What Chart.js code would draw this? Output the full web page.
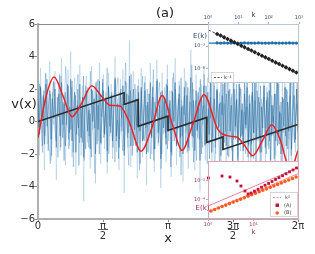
<!DOCTYPE html>
<html>
<head>
<meta charset="utf-8">
<script src="https://cdn.jsdelivr.net/npm/chart.js@4.4.0/dist/chart.umd.min.js"></script>
<style>
  html, body { margin: 0; padding: 0; background: #fff; }
  #wrap { position: relative; width: 315px; height: 254px; overflow: hidden; }
  #wrap canvas { position: absolute; }
</style>
</head>
<body>
<div id="wrap">
  <canvas id="mainChart" width="315" height="254" style="left:0;top:0"></canvas>
  <canvas id="topInset" width="130" height="90" style="left:180px;top:4px"></canvas>
  <canvas id="bottomInset" width="125" height="95" style="left:185px;top:150px"></canvas>
</div>
<script>
/**
 *
 * Chart (a): v(x) with two spectrum insets
 *
 */

const FONT = 'DejaVu Sans';
const TWO_PI = 2 * Math.PI;

// main axes
const xTickValues = [0, Math.PI / 2, Math.PI, 3 * Math.PI / 2, 2 * Math.PI];
const xTickLabels = ['0', ['π', '2'], 'π', ['3π', '2'], '2π'];
const fractionTicks = [Math.PI / 2, 3 * Math.PI / 2];

// noisy signal, four overlapping layers (light -> dark)
const noiseLight = [
  2.6,-2.1,3.3,-0.7,1.5,-3.0,2.9,-1.4,0.6,3.7,-2.4,1.8,-0.2,3.1,-3.6,1.0,2.4,-1.8,3.9,-1.0,
  1.6,-2.7,0.8,3.2,-1.5,4.3,-2.2,0.3,2.7,-3.3,1.3,-0.9,3.5,-2.1,2.2,-4.9,1.7,2.8,-1.3,0.9,
  -2.9,3.4,-0.5,2.1,-3.8,2.5,-1.2,3.6,-2.6,0.7,2.9,-1.7,1.8,-3.2,3.0,-0.9,2.3,-2.3,1.1,4.0,
  -1.9,1.4,-3.0,2.6,-0.3,3.2,-4.4,1.2,2.4,-1.6,5.0,-2.8,0.9,3.1,-1.1,2.0,-3.5,2.6,-1.3,3.3,
  -2.2,0.5,2.8,-3.9,1.7,-0.6,3.6,-2.0,2.2,-3.1,0.8,3.8,-1.5,1.4,-4.1,3.0,-0.8,2.1,-2.5,3.5,
  -1.2,1.9,-3.4,2.7,-0.4,3.9,-2.7,1.0,2.5,-1.9,1.3,-3.7,3.3,-0.7,2.4,-2.9,0.6,4.4,-1.6,2.0,
  -3.0,2.9,-1.0,1.6,-4.3,2.3,-0.2,3.4,-2.4,1.2,2.7,-1.4,3.8,-3.3,0.8,2.2,-2.0,3.1,-0.9,1.8,
  -3.6,2.5,-1.7,4.6,-2.6,0.4,2.9,-1.1,1.5,-4.5,3.2,-0.6,2.0,-2.2,3.7,-1.8,1.1,-3.1,2.6,-0.5,
  3.4,-2.5,1.7,-3.9,2.8,-1.3,4.2,-2.0,0.9,2.4,-3.4,1.4,-0.8,3.6,-2.8,2.1,-1.5,3.0,-4.2,1.6,
  -0.3,2.7,-2.1,3.9,-1.4,1.0,-3.6,2.4,-0.7,3.3,-2.6,1.9,-1.1,4.1,-3.0,0.6,2.5,-1.9,3.2,-1.2
];
const noiseMidA = [
  0.9,2.3,-0.6,-1.9,1.4,3.0,0.2,-1.2,-2.6,1.1,2.5,1.7,-0.4,-2.2,0.6,2.8,-1.0,0.3,3.4,1.2,
  -1.7,-0.5,2.1,-2.8,0.8,1.9,2.9,-1.3,-0.1,1.5,-2.4,2.2,0.4,-1.6,3.1,0.7,-0.9,-3.2,1.8,2.6,
  0.1,-1.4,2.4,-0.7,1.0,3.3,-2.0,-0.3,1.6,0.5,-2.5,2.0,2.7,-1.1,0.2,-1.8,1.3,3.6,-0.8,-2.7,
  1.9,0.6,-1.5,2.3,-0.2,1.1,-3.0,0.9,2.8,-1.2,-0.4,2.0,1.4,-2.3,0.7,3.2,-1.7,-0.6,1.7,2.4,
  -2.9,0.3,1.2,-1.0,2.6,-0.5,0.8,-2.1,3.0,1.5,-1.4,-0.2,2.2,-3.3,1.0,0.4,2.5,-1.9,-0.7,1.8,
  3.5,-1.0,0.0,-2.4,1.6,2.1,-0.9,-1.6,2.9,0.5,-2.6,1.3,0.2,2.4,-1.3,-3.1,1.9,0.8,-0.3,2.7,
  -1.8,1.1,-0.6,3.1,-2.2,0.4,1.7,-1.1,-0.1,2.3,-2.9,1.4,2.0,-0.8,0.6,-2.0,3.3,-1.5,0.9,1.6,
  -2.3,0.1,2.6,-1.2,1.2,-3.4,0.7,2.2,-0.4,1.5,-1.7,2.8,-0.9,0.3,-2.5,1.8,2.4,-1.4,0.5,-0.6,
  -1.9,2.1,0.8,-2.8,1.3,3.0,-0.7,-1.3,2.0,0.4
];
const noiseMidB = [
  1.4,-0.3,2.2,0.8,-1.5,1.9,-0.9,0.5,2.6,-1.8, 0.2,1.7,-2.1,1.0,2.4,-0.6,-1.2,1.5,0.3,2.9,
  -1.6,0.7,1.2,-2.4,1.8,-0.2,2.3,-1.1,0.9,-0.5, 2.5,-1.9,0.4,1.6,-0.8,2.0,-2.7,1.1,0.6,-1.3,
  2.8,0.0,-1.7,1.3,2.1,-0.9,0.5,-2.2,1.9,0.8, -0.4,2.4,-1.4,1.0,-2.0,1.7,0.3,2.6,-1.0,-0.2,
  1.5,-2.5,2.2,0.6,-0.7,1.8,-1.6,0.9,2.7,-1.2, 0.1,-2.3,1.4,2.0,-0.6,1.1,-1.8,2.5,0.4,-1.0,
  1.6,-0.3,2.9,-2.1,0.7,1.3,-1.5,0.2,2.2,-0.8, -2.6,1.9,0.5,-1.1,2.4,-0.4,1.0,-1.9,1.7,0.9,
  -0.9,2.1,-2.4,1.2,0.3,2.6,-1.3,-0.1,1.8,-2.0, 0.8,1.5,-0.7,2.3,-1.7,0.4,1.1,-2.8,1.9,0.2,
  -1.2,2.0,0.6,-0.5,1.4,-2.2,2.7,-0.9,0.7,1.6, -1.4,0.0,2.1,-1.8,1.2,-0.3,2.4,-2.5,0.9,1.3,
  -0.6,1.8,-1.1,2.6,-2.0,0.5,1.0,-1.5,2.2,-0.2, 0.8,-2.3,1.5,0.2,-1.0,2.8,-1.6,0.6,1.9,-0.8,
  -2.7,1.2,0.4,2.3,-1.3,-0.1,1.7,-2.1,1.0,2.0, -0.5,-1.8,2.5,0.7,-1.1,1.4,-2.4,0.3,2.1,-0.9,
  1.1,-1.6,2.7,-0.4,0.9,-2.2,1.6,0.1,-1.4,2.4, -0.7,1.3,-2.6,1.9,0.5,-1.0,2.2,-1.9,0.8,1.5,
  -0.3,-2.0,1.8,0.6,-1.2,2.5,-0.8,1.0,-2.3,1.7, 0.2,-1.5,2.3,-0.6,1.2,-2.8,1.4,0.7,-0.9,2.0,
  -1.7,0.9,1.6,-2.1,0.4,2.6,-1.3,0.3,1.1,-0.5
];
const noiseDark = [
  1.2,-0.8,2.1,0.1,1.6,-1.4,2.3,-0.3,0.9,1.9,-1.1,1.4,0.2,2.0,-1.6,0.8,1.7,-0.9,2.4,-0.2,
  1.1,-1.5,0.6,2.2,-0.7,2.6,-1.2,0.4,1.8,-1.9,1.0,-0.4,2.3,-1.0,1.5,-2.2,1.2,1.9,-0.6,0.7,
  -1.7,2.0,0.0,1.4,-2.0,1.7,-0.5,2.5,-1.3,0.5,1.9,-0.8,1.3,-1.8,2.1,-0.3,1.6,-1.2,0.9,2.6,
  -0.9,1.1,-1.6,1.8,0.2,2.2,-2.1,0.9,1.7,-0.7,2.8,-1.5,0.6,2.0,-0.5,1.4,-1.9,1.8,-0.6,2.1,
  -1.2,0.5,1.9,-2.0,1.2,-0.2,2.4,-1.0,1.5,-1.7,0.6,2.5,-0.7,1.0,-2.3,1.9,-0.4,1.4,-1.4,2.2,
  -0.6,1.3,-1.9,1.8,0.0,2.4,-1.5,0.7,1.7,-1.0,0.9,-2.0,2.1,-0.3,1.6,-1.6,0.4,2.7,-0.9,1.3,
  -1.8,1.9,-0.5,1.1,-2.4,1.5,0.1,2.2,-1.4,0.8,1.8,-0.8,2.4,-1.9,0.5,1.4,-1.2,2.0,-0.4,1.1,
  -2.1,1.6,-1.0,2.7,-1.5,0.2,1.9,-0.6,1.0,-2.5,2.0,-0.3,1.3,-1.3,2.3,-1.0,0.7,-1.8,1.7,-0.2,
  2.1,-1.4,1.1,-2.2,1.8,-0.7,2.6,-1.1,0.5,1.5,-1.9,0.9,-0.4,2.2,-1.6,1.3,-0.8,1.9,-2.4,1.0,
  -0.1,1.7,-1.2,2.4,-0.8,0.6,-2.0,1.5,-0.3,2.1,-1.5,1.2,-0.6,2.5,-1.7,0.4,1.6,-1.1,2.0,-0.7
];

// smooth red curve
const redX = [0, 0.2, 0.39, 0.6, 0.82, 1.05, 1.3, 1.52, 1.74, 1.98, 2.2, 2.49, 2.75, 3.0, 3.25, 3.48,
              3.75, 4.01, 4.35, 4.64, 4.8, 5.0, 5.19, 5.42, 5.65, 5.85, 6.1, 6.28];
const redY = [-1.0, 1.6, 2.74, 1.6, 0.3, 1.1, 2.2, 1.6, 1.0, 0.95, 0.0, -1.83, -0.4, 1.6, -0.2, -1.77,
              -0.1, 1.65, -0.5, -0.9, -0.95, -1.5, -2.1, -1.2, -0.2, -1.1, -3.0, -1.8];

// black sawtooth
const sawX = [0, 2.08, 2.08, 2.42, 2.42, 3.14, 3.14, 4.08, 4.08, 4.47, 4.47, 6.28];
const sawY = [0, 1.77, 1.05, 1.34, -0.3, 0.33, -0.55, 0.25, -1.28, -0.95, -1.72, -0.18];

// top inset
const topK = [2, 2.6, 3.4, 4.4, 5.7, 7.4, 9.6, 12.5, 16, 21, 27, 35, 46, 60, 78, 101, 131, 170, 221, 287, 373, 485, 630, 820];
const topDiamond = [0.045, 0.027, 0.0156, 0.0093, 0.0055, 0.0033, 0.00195, 0.00115, 7.0e-4, 4.1e-4, 2.5e-4, 1.47e-4,
                    8.5e-5, 5.0e-5, 3.0e-5, 1.76e-5, 1.05e-5, 6.2e-6, 3.7e-6, 2.2e-6, 1.3e-6, 7.7e-7, 4.5e-7, 2.7e-7];
const topBlue = [2.7e-3, 2.6e-3, 2.7e-3, 2.6e-3, 2.6e-3, 2.7e-3, 2.6e-3, 2.6e-3, 2.7e-3, 2.6e-3, 2.6e-3, 2.6e-3,
                 2.7e-3, 2.6e-3, 2.6e-3, 2.6e-3, 2.7e-3, 2.6e-3, 2.6e-3, 2.6e-3, 2.6e-3, 2.7e-3, 2.6e-3, 2.6e-3];
const topLineK = [1, 1000];
const topFlatE = [2.6e-3, 2.6e-3];
const topRefE = [0.17, 1.7e-7];
const topXTicks = [1, 10, 100, 1000];
const topXLabels = ['10⁰', '10¹', '10²', '10³'];
const topYTicks = [1e-3, 1e-6];
const topYLabels = ['10⁻³', '10⁻⁶'];

// bottom inset
const botKA = [1.02, 2.03, 3.04, 4.34, 5.3, 6.5, 7.6, 8.81, 10.5, 12.6, 15.0, 17.9, 21.4, 25.5, 30.5, 36.3, 43.4, 51.8, 61.8, 73.8, 88.1];
const botEA = [0.0174, 0.028, 0.022, 0.0085, 0.0026, 7.9e-4, 3.9e-4, 4.9e-4, 7.7e-4, 1.2e-3, 1.95e-3, 3.1e-3, 4.8e-3,
               7.6e-3, 0.0123, 0.019, 0.030, 0.048, 0.076, 0.12, 0.19];
const botKB = [1.16, 1.40, 1.69, 2.04, 2.46, 2.97, 3.58, 4.32, 5.20, 6.28, 7.57, 9.12, 11.0, 13.3, 16.0, 19.3, 23.3,
               28.1, 33.9, 40.8, 49.2, 59.4, 71.6, 86.3];
const botEB = [6.8e-6, 9.6e-6, 1.38e-5, 1.95e-5, 2.75e-5, 3.9e-5, 5.6e-5, 7.9e-5, 1.12e-4, 1.6e-4, 2.3e-4, 3.2e-4,
               4.6e-4, 6.6e-4, 9.3e-4, 1.32e-3, 1.87e-3, 2.7e-3, 3.8e-3, 5.4e-3, 7.7e-3, 0.011, 0.0155, 0.022];
const botLineK = [1, 100];
const botRefUpper = [2.2e-5, 0.22];
const botRefLower = [5.4e-6, 0.054];
const botXTicks = [1, 10];
const botXLabels = ['10⁰', '10¹'];
const botYTicks = [1e-2, 1e-4];
const botYLabels = ['10⁻²', '10⁻⁴'];


const App = (function() {

    const pairs = function(xs, ys) {
        return xs.map(function(x, i) { return { x: x, y: ys[i] }; });
    };

    // sample positions spread evenly over [0, 2π]
    const onGrid = function(ys) {
        return ys.map(function(v, i) { return { x: i * TWO_PI / (ys.length - 1), y: v }; });
    };

    const minus = function(v) {
        return v < 0 ? '−' + Math.abs(v) : '' + v;
    };

    const noiseSet = function(ys, color) {
        return {
            data: onGrid(ys),
            borderColor: color,
            borderWidth: 1,
            pointRadius: 0,
            tension: 0
        };
    };

    const mainDecor = {
        id: 'mainDecor',
        afterDraw: function(chart) {
            const c = chart.ctx;
            const a = chart.chartArea;
            c.save();
            // top and right spines
            c.strokeStyle = '#8a8a8a';
            c.lineWidth = 1;
            c.beginPath();
            c.moveTo(a.left, a.top + 0.5);
            c.lineTo(a.right, a.top + 0.5);
            c.lineTo(a.right, a.bottom);
            c.stroke();
            // fraction bars under π
            c.strokeStyle = '#333';
            c.lineWidth = 0.8;
            fractionTicks.forEach(function(v) {
                const px = chart.scales.x.getPixelForValue(v);
                c.beginPath();
                c.moveTo(px - 5, 229.5);
                c.lineTo(px + 5, 229.5);
                c.stroke();
            });
            c.fillStyle = '#222';
            c.textAlign = 'center';
            c.textBaseline = 'middle';
            c.font = '13px "' + FONT + '"';
            c.fillText('(a)', 165, 14);
            c.fillText('v(x)', 24, 105);
            c.restore();
        }
    };

    const insetFrame = function(color, legendFn) {
        return {
            id: 'insetFrame',
            beforeDraw: function(chart) {
                const a = chart.chartArea;
                const c = chart.ctx;
                c.save();
                c.fillStyle = '#fff';
                c.fillRect(a.left, a.top, a.right - a.left, a.bottom - a.top);
                c.restore();
            },
            afterDraw: function(chart) {
                const a = chart.chartArea;
                const c = chart.ctx;
                c.save();
                c.strokeStyle = color;
                c.lineWidth = 1;
                c.strokeRect(a.left + 0.5, a.top + 0.5, a.right - a.left - 1, a.bottom - a.top - 1);
                legendFn(c, a);
                c.restore();
            }
        };
    };

    const mainChart = function() {
        const ctx = document.getElementById('mainChart');

        new Chart(ctx, {
            type: 'line',
            data: {
                datasets: [{
                    data: pairs(redX, redY),
                    borderColor: '#ee2222',
                    borderWidth: 1.5,
                    pointRadius: 0,
                    cubicInterpolationMode: 'monotone'
                }, {
                    data: pairs(sawX, sawY),
                    borderColor: '#2a2a2a',
                    borderWidth: 1.6,
                    pointRadius: 0,
                    tension: 0
                },
                noiseSet(noiseDark, 'rgba(31,100,150,0.45)'),
                noiseSet(noiseMidB, 'rgba(31,110,165,0.35)'),
                noiseSet(noiseMidA, 'rgba(40,120,175,0.3)'),
                noiseSet(noiseLight, 'rgba(70,135,190,0.22)')]
            },
            options: {
                responsive: false,
                animation: false,
                events: [],
                layout: { padding: { left: 0, right: 17, top: 24, bottom: 0 } },
                plugins: { legend: { display: false }, tooltip: { enabled: false } },
                scales: {
                    x: {
                        type: 'linear',
                        min: 0,
                        max: TWO_PI,
                        afterBuildTicks: function(s) { s.ticks = xTickValues.map(function(v) { return { value: v }; }); },
                        afterFit: function(s) { s.height = 35; },
                        ticks: {
                            callback: function(v, i) { return xTickLabels[i]; },
                            font: { family: FONT, size: 10, lineHeight: 1.0 },
                            color: '#333',
                            padding: -1,
                            maxRotation: 0,
                            autoSkip: false
                        },
                        grid: { drawOnChartArea: false, tickLength: 3, color: '#888' },
                        border: { color: '#b0b0b0', width: 2 },
                        title: { display: true, text: 'x', color: '#222', font: { family: FONT, size: 13 }, padding: { top: 0, bottom: 8 } }
                    },
                    y: {
                        min: -6,
                        max: 6,
                        afterFit: function(s) { s.width = 38; },
                        ticks: {
                            stepSize: 2,
                            callback: function(v) { return minus(v); },
                            font: { family: FONT, size: 10 },
                            color: '#333',
                            padding: 0
                        },
                        grid: { drawOnChartArea: false, tickLength: 3, color: '#888' },
                        border: { color: '#b0b0b0', width: 2 }
                    }
                }
            },
            plugins: [mainDecor]
        });
    };

    const topInset = function() {
        const ctx = document.getElementById('topInset');
        const navy = '#2d4560';

        const legend = function(c, a) {
            c.fillStyle = '#fff';
            c.strokeStyle = '#cccccc';
            c.lineWidth = 0.8;
            c.fillRect(31, 68, 22, 10);
            c.strokeRect(31.5, 68.5, 22, 10);
            c.strokeStyle = '#333';
            c.setLineDash([2, 1.5]);
            c.beginPath();
            c.moveTo(34, 73.5);
            c.lineTo(42, 73.5);
            c.stroke();
            c.setLineDash([]);
            c.fillStyle = '#333';
            c.font = '5px "' + FONT + '"';
            c.textAlign = 'left';
            c.textBaseline = 'middle';
            c.fillText('k⁻²', 44, 73.5);
            c.fillStyle = navy;
            c.font = '7px "' + FONT + '"';
            c.textAlign = 'center';
            c.fillText('E(k)', 20, 32.5);
        };

        new Chart(ctx, {
            type: 'line',
            data: {
                datasets: [{
                    data: pairs(topK, topDiamond),
                    showLine: false,
                    pointStyle: 'rectRot',
                    pointRadius: 2.3,
                    backgroundColor: '#222',
                    borderColor: '#222',
                    borderWidth: 0
                }, {
                    data: pairs(topK, topBlue),
                    showLine: false,
                    pointStyle: 'circle',
                    pointRadius: 1.6,
                    backgroundColor: '#1f6fa8',
                    borderColor: '#1f6fa8',
                    borderWidth: 0
                }, {
                    data: pairs(topLineK, topFlatE),
                    borderColor: '#1f6fa8',
                    borderWidth: 1.2,
                    pointRadius: 0
                }, {
                    data: pairs(topLineK, topRefE),
                    borderColor: '#333',
                    borderWidth: 0.9,
                    borderDash: [3, 2],
                    pointRadius: 0
                }]
            },
            options: {
                responsive: false,
                animation: false,
                events: [],
                layout: { padding: { left: 0, right: 11, top: 0, bottom: 11 } },
                plugins: { legend: { display: false }, tooltip: { enabled: false } },
                scales: {
                    x: {
                        type: 'logarithmic',
                        position: 'top',
                        min: 1,
                        max: 1000,
                        afterBuildTicks: function(s) { s.ticks = topXTicks.map(function(v) { return { value: v }; }); },
                        afterFit: function(s) { s.height = 20; },
                        ticks: {
                            callback: function(v, i) { return topXLabels[i]; },
                            font: { family: FONT, size: 5 },
                            color: navy,
                            padding: 1,
                            maxRotation: 0,
                            autoSkip: false
                        },
                        grid: { drawOnChartArea: false, tickLength: 2, color: '#aab' },
                        border: { display: false },
                        title: { display: true, text: 'k', color: navy, font: { family: FONT, size: 7 }, padding: { top: 7, bottom: 0 } }
                    },
                    y: {
                        type: 'logarithmic',
                        min: 1e-8,
                        max: 1,
                        afterBuildTicks: function(s) { s.ticks = topYTicks.map(function(v) { return { value: v }; }); },
                        afterFit: function(s) { s.width = 28; },
                        ticks: {
                            callback: function(v, i) { return topYLabels[i]; },
                            font: { family: FONT, size: 5 },
                            color: navy,
                            padding: 1,
                            autoSkip: false
                        },
                        grid: { drawOnChartArea: false, tickLength: 2, color: '#aab' },
                        border: { display: false }
                    }
                }
            },
            plugins: [insetFrame('#b9c9d9', legend)]
        });
    };

    const bottomInset = function() {
        const ctx = document.getElementById('bottomInset');
        const wine = '#a3304f';

        const legend = function(c, a) {
            c.fillStyle = '#fff';
            c.strokeStyle = '#cccccc';
            c.lineWidth = 0.8;
            c.fillRect(85, 42, 28, 25);
            c.strokeRect(85.5, 42.5, 27, 24);
            c.strokeStyle = 'rgba(220,90,110,0.9)';
            c.setLineDash([2, 1.5]);
            c.beginPath();
            c.moveTo(88, 47.5);
            c.lineTo(96, 47.5);
            c.stroke();
            c.setLineDash([]);
            c.fillStyle = '#c4123a';
            c.fillRect(90.5, 53.5, 3.5, 3.5);
            c.fillStyle = '#ff5a24';
            c.beginPath();
            c.arc(92.2, 63, 1.8, 0, 2 * Math.PI);
            c.fill();
            c.fillStyle = '#444';
            c.font = '5px "' + FONT + '"';
            c.textAlign = 'left';
            c.textBaseline = 'middle';
            c.fillText('k²', 100, 47.5);
            c.fillText('(A)', 99, 55.5);
            c.fillText('(B)', 99, 63);
            c.fillStyle = wine;
            c.font = '7px "' + FONT + '"';
            c.textAlign = 'center';
            c.fillText('E(k)', 17.5, 58);
        };

        new Chart(ctx, {
            type: 'line',
            data: {
                datasets: [{
                    data: pairs(botKA, botEA),
                    showLine: false,
                    pointStyle: 'rect',
                    pointRadius: 2,
                    backgroundColor: '#c4123a',
                    borderColor: '#c4123a',
                    borderWidth: 0,
                    clip: false
                }, {
                    data: pairs(botKB, botEB),
                    showLine: false,
                    pointStyle: 'circle',
                    pointRadius: 1.8,
                    backgroundColor: '#ff5a24',
                    borderColor: '#ff5a24',
                    borderWidth: 0,
                    clip: false
                }, {
                    data: pairs(botLineK, botRefUpper),
                    borderColor: 'rgba(210,70,110,0.85)',
                    borderWidth: 0.8,
                    pointRadius: 0
                }, {
                    data: pairs(botLineK, botRefLower),
                    borderColor: 'rgba(255,110,60,0.85)',
                    borderWidth: 0.8,
                    pointRadius: 0
                }]
            },
            options: {
                responsive: false,
                animation: false,
                events: [],
                layout: { padding: { left: 0, right: 11, top: 11, bottom: 0 } },
                plugins: { legend: { display: false }, tooltip: { enabled: false } },
                scales: {
                    x: {
                        type: 'logarithmic',
                        min: 1,
                        max: 100,
                        afterBuildTicks: function(s) { s.ticks = botXTicks.map(function(v) { return { value: v }; }); },
                        afterFit: function(s) { s.height = 26; },
                        ticks: {
                            callback: function(v, i) { return botXLabels[i]; },
                            font: { family: FONT, size: 5 },
                            color: wine,
                            padding: 1,
                            maxRotation: 0,
                            autoSkip: false
                        },
                        grid: { drawOnChartArea: false, tickLength: 2, color: '#caa' },
                        border: { display: false },
                        title: { display: true, text: 'k', color: wine, font: { family: FONT, size: 7 }, padding: { top: 0, bottom: 9 } }
                    },
                    y: {
                        type: 'logarithmic',
                        min: 1e-6,
                        max: 1,
                        afterBuildTicks: function(s) { s.ticks = botYTicks.map(function(v) { return { value: v }; }); },
                        afterFit: function(s) { s.width = 23; },
                        ticks: {
                            callback: function(v, i) { return botYLabels[i]; },
                            font: { family: FONT, size: 5 },
                            color: wine,
                            padding: 1,
                            autoSkip: false
                        },
                        grid: { drawOnChartArea: false, tickLength: 2, color: '#caa' },
                        border: { display: false }
                    }
                }
            },
            plugins: [insetFrame('#dba3b5', legend)]
        });
    };

    const init = function() {
        mainChart();
        topInset();
        bottomInset();
    };

    return {
        init: init
    };

})();

App.init();
</script>
</body>
</html>
